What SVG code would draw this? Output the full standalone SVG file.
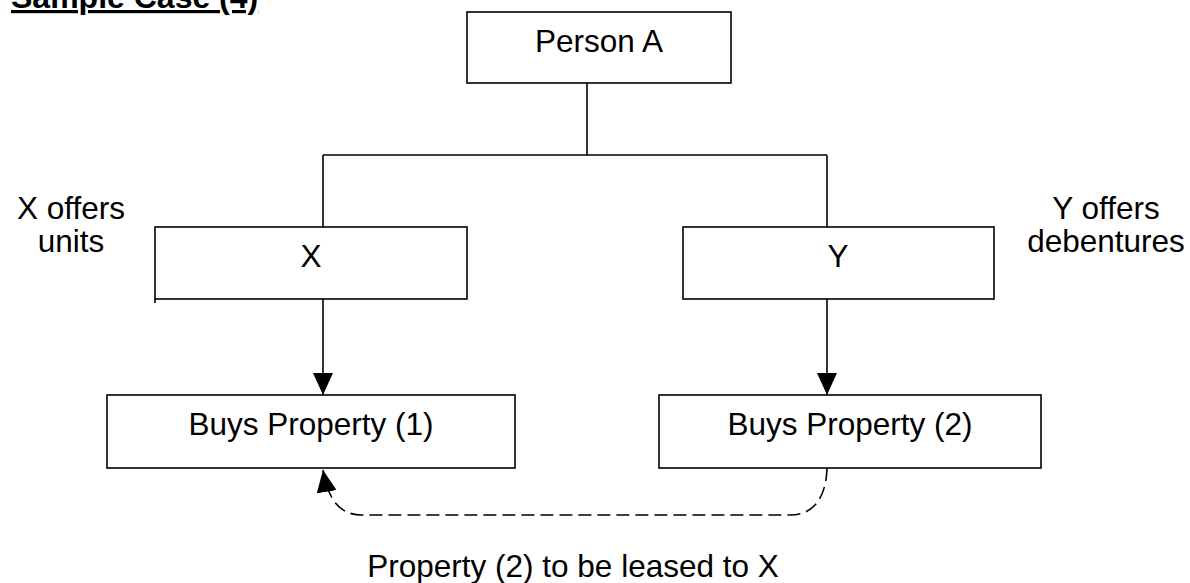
<svg xmlns="http://www.w3.org/2000/svg" width="1190" height="583" viewBox="0 0 1190 583">
<style>
  text { font-family: "Liberation Sans", Arial, sans-serif; font-size: 31.5px; fill: #000; }
  .box { fill: #fff; stroke: #000; stroke-width: 1.6; }
  .line { fill: none; stroke: #000; stroke-width: 1.6; }
  .dash { fill: none; stroke: #000; stroke-width: 1.6; stroke-dasharray: 13 6; }
  .c { text-anchor: middle; }
</style>
<defs>
  <marker id="arr" markerWidth="22" markerHeight="20" refX="22" refY="10" orient="auto" markerUnits="userSpaceOnUse">
    <path d="M0,0 L22,10 L0,20 Z" fill="#000"/>
  </marker>
</defs>
<rect width="1190" height="583" fill="#fff"/>

<g id="title">
  <text x="11" y="8" style="font-weight:bold;font-size:32px" text-decoration="underline">Sample Case (4)</text>
</g>

<g id="connectors">
  <line class="line" x1="587" y1="83" x2="587" y2="155"/>
  <line class="line" x1="323" y1="155" x2="827" y2="155"/>
  <line class="line" x1="323" y1="155" x2="323" y2="227"/>
  <line class="line" x1="827" y1="155" x2="827" y2="227"/>
  <line class="line" x1="323" y1="299" x2="323" y2="395" marker-end="url(#arr)"/>
  <line class="line" x1="827" y1="299" x2="827" y2="395" marker-end="url(#arr)"/>
  <path class="dash" d="M827,468 C826,500 812,515 790,515 L362,515 C340,515 328,500 323,470" marker-end="url(#arr)"/>
</g>

<g id="personA">
  <rect class="box" x="467" y="12" width="264" height="71"/>
  <text class="c" x="599" y="52">Person A</text>
</g>

<g id="nodeX">
  <rect class="box" x="155" y="227" width="312" height="72"/>
  <line class="line" x1="155" y1="299" x2="155" y2="303"/>
  <text class="c" x="311" y="267">X</text>
</g>

<g id="nodeY">
  <rect class="box" x="683" y="227" width="311" height="72"/>
  <text class="c" x="838" y="267">Y</text>
</g>

<g id="buys1">
  <rect class="box" x="107" y="395" width="408" height="73"/>
  <text class="c" x="311" y="435">Buys Property (1)</text>
</g>

<g id="buys2">
  <rect class="box" x="659" y="395" width="382" height="73"/>
  <text class="c" x="850" y="435">Buys Property (2)</text>
</g>

<g id="labelX">
  <text class="c" x="71" y="219">X offers</text>
  <text class="c" x="71" y="252">units</text>
</g>

<g id="labelY">
  <text class="c" x="1106" y="219">Y offers</text>
  <text class="c" x="1106" y="252">debentures</text>
</g>

<g id="labelLease">
  <text class="c" x="573" y="577">Property (2) to be leased to X</text>
</g>
</svg>
